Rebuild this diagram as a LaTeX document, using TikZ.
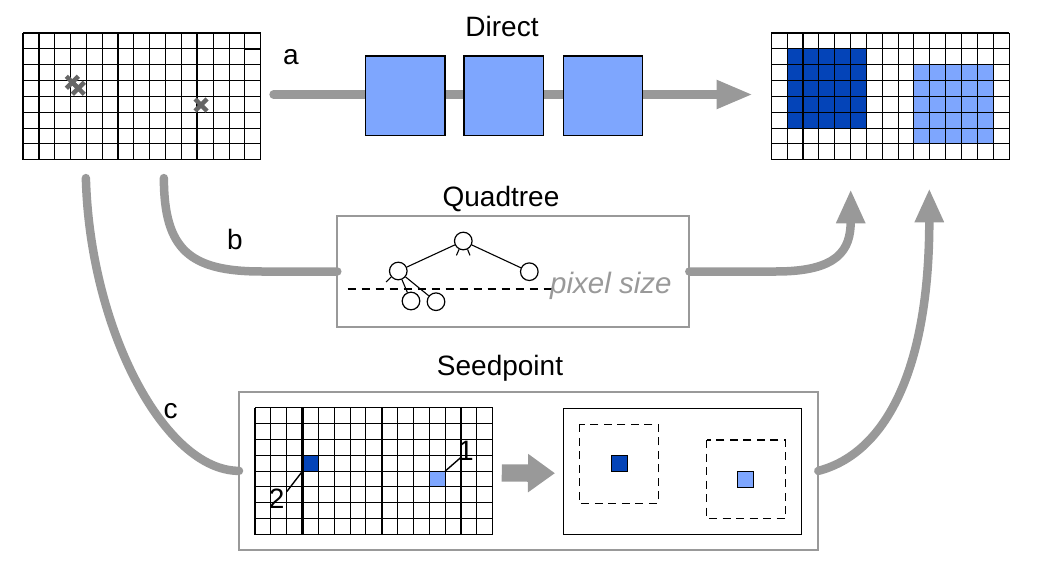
\documentclass[tikz,border=0pt]{standalone}
\usepackage{fontspec}
\setmainfont{Liberation Sans}
\usetikzlibrary{arrows.meta}
\definecolor{flowgray}{RGB}{153,153,153}
\definecolor{crossgray}{RGB}{102,102,102}
\definecolor{darkblue}{RGB}{4,68,184}
\definecolor{lightblue}{RGB}{126,166,254}
\begin{document}
\begin{tikzpicture}[x=1pt,y=-1pt,
  title/.style={font=\fontsize{28}{32}\selectfont, anchor=base, inner sep=0},
  lbl/.style={font=\fontsize{28}{32}\selectfont, anchor=base, inner sep=0},
  area/.style={draw=none, inner sep=0, outer sep=0, minimum width=237.75pt, minimum height=126.8pt},
  gl/.style={line width=1.05pt, black},
  glthick/.style={line width=2.2pt, black},
  stagebox/.style={draw=black, line width=1.4pt, fill=lightblue, minimum width=79.5pt, minimum height=79.3pt, inner sep=0, outer sep=0},
  panel/.style={draw=flowgray, line width=2pt, inner sep=0, outer sep=0},
  innerpanel/.style={draw=black, line width=1.4pt, inner sep=0, outer sep=0},
  flowplain/.style={draw=flowgray, line width=8.5pt, line cap=round},
  flow/.style={flowplain, -{Triangle[length=34pt,width=27pt]}},
  treenode/.style={circle, draw=black, line width=1.2pt, minimum size=17.6pt, inner sep=0, fill=white},
  treeedge/.style={line width=1.1pt, black},
  xmark/.style={draw=crossgray, line width=4.5pt},
  limitline/.style={black, line width=1.8pt, dash pattern=on 8pt off 6pt},
  window/.style={black, line width=1.5pt, dash pattern=on 8pt off 5.5pt},
  seedcell/.style={draw=black, line width=1.3pt},
]
\useasboundingbox (0,0) rectangle (1041,575);

% ---------- grid areas (named) ----------
\node[area] (gA) at (141.875,96.4) {};
\node[area] (gD) at (890.175,96.4) {};
\node[area] (gS) at (373.875,471.1) {};

% ---------- panels ----------
\node[panel, minimum width=352pt, minimum height=111.6pt] (qt) at (513.3,271.5) {};
\node[panel, minimum width=579.3pt, minimum height=158.3pt] (sp) at (528.65,470.85) {};
\node[innerpanel, minimum width=238.4pt, minimum height=126pt] (sr) at (682.5,471.3) {};

% ---------- titles and labels ----------
\node[title] (tDirect) at (502,36.7) {Direct};
\node[title] (tQuad) at (501,206.7) {Quadtree};
\node[title] (tSeed) at (500,375) {Seedpoint};
\node[lbl] (la) at (291,65) {a};
\node[lbl] (lb) at (235,249.3) {b};
\node[lbl] (lc) at (170.7,418.3) {c};

% ---------- flows ----------
\draw[flowplain, -{Triangle[length=36pt,width=26.7pt]}] ([xshift=12.8pt,yshift=1.9pt]gA.east) -- ([xshift=-18.6pt,yshift=1.9pt]gD.west);
\node[stagebox] (s1) at (405.3,95.7) {};
\node[stagebox] (s2) at (503.8,95.7) {};
\node[stagebox] (s3) at (603,95.7) {};

\draw[flowplain] ([xshift=22pt,yshift=-18.3pt]gA.south) .. controls (164,250) and (190,271.5) .. (262,271.5) -- (qt.west);
\draw[flowplain] ([xshift=-56pt,yshift=-18.3pt]gA.south) .. controls (90,330) and (165,470.85) .. (sp.west);

\coordinate (tipB) at (850.7,189.3);
\coordinate (tipC) at (929.3,188.3);
\draw[flow] (qt.east) -- (776,271.5) .. controls (838,271.5) and (850.7,250) .. (tipB);
\draw[flow] (sp.east) .. controls (880,455) and (929.3,380) .. (tipC);

\draw[draw=flowgray, line width=17.3pt, -{Triangle[length=27pt,width=36.7pt]}] ([xshift=9pt,yshift=-1.9pt]gS.east) -- ([xshift=-8.3pt,yshift=-1.9pt]sr.west);

% ---------- top-left grid ----------
\foreach \i in {0,...,15} \draw[gl] (23+\i*15.85,33) -- (23+\i*15.85,159.8);
\foreach \j in {0,...,8} \draw[gl] (23,33+\j*15.85) -- (260.75,33+\j*15.85);
\foreach \i in {1,6,11} \draw[glthick] (23+\i*15.85,33) -- (23+\i*15.85,159.8);
\draw[glthick] (23+14*15.85,48.85) -- (260.75,48.85);
\draw[xmark] (66.3,76.3) -- (78.3,88.3) (66.3,88.3) -- (78.3,76.3);
\draw[xmark] (72.3,82.3) -- (84.3,94.3) (72.3,94.3) -- (84.3,82.3);
\draw[xmark] (195,99) -- (207,111) (195,111) -- (207,99);

% ---------- top-right grid ----------
\fill[darkblue] (771.3+15.85,33+15.85) rectangle (771.3+6*15.85,33+6*15.85);
\fill[lightblue] (771.3+9*15.85,33+2*15.85) rectangle (771.3+14*15.85,33+7*15.85);
\foreach \i in {0,...,15} \draw[gl] (771.3+\i*15.85,33) -- (771.3+\i*15.85,159.8);
\foreach \j in {0,...,8} \draw[gl] (771.3,33+\j*15.85) -- (1009.05,33+\j*15.85);

% ---------- quadtree ----------
\draw[limitline] (347.7,288.7) -- (551.7,288.7);
\node[treenode] (root) at (463.3,241) {};
\node[treenode] (lch) at (398.3,271) {};
\node[treenode] (rch) at (529.3,271.7) {};
\node[treenode] (g1) at (411,301) {};
\node[treenode] (g2) at (436,301.7) {};
\draw[treeedge] (root) -- (lch);
\draw[treeedge] (root) -- (rch);
\draw[treeedge] (lch) -- (g1);
\draw[treeedge] (lch) -- (g2);
\draw[treeedge] (root.-117) -- ++(-2.6,6);
\draw[treeedge] (root.-63) -- ++(2.4,6);
\draw[treeedge] (lch.-140) -- ++(-5,5);
\node[lbl, anchor=base west, text=flowgray, font=\fontsize{29.5}{33}\selectfont\itshape] (px) at (550,293.3) {pixel size};

% ---------- seedpoint grid ----------
\fill[darkblue] (255+3*15.85,407.7+3*15.85) rectangle (255+4*15.85,407.7+4*15.85);
\fill[lightblue] (255+11*15.85,407.7+4*15.85) rectangle (255+12*15.85,407.7+5*15.85);
\foreach \i in {0,...,15} \draw[gl] (255+\i*15.85,407.7) -- (255+\i*15.85,534.5);
\foreach \j in {0,...,8} \draw[gl] (255,407.7+\j*15.85) -- (492.75,407.7+\j*15.85);
\foreach \i in {3,8,13} \draw[glthick] (255+\i*15.85,407.7) -- (255+\i*15.85,534.5);
\coordinate (c2) at (255+3*15.85,407.7+4*15.85);
\coordinate (c1) at (255+12*15.85,407.7+4*15.85);
\node[lbl] (n2) at (276.7,508) {2};
\node[lbl] (n1) at (466,460) {1};
\draw[treeedge, line width=1.4pt] (c2) -- (286.7,491.7);
\draw[treeedge, line width=1.4pt] (c1) -- (461.7,456.7);

% ---------- seedpoint result ----------
\draw[window] (579.3,424.3) rectangle (658.3,503.3);
\draw[window] (706.7,440) rectangle (785.3,518.7);
\filldraw[seedcell, fill=darkblue] (611.3,455.3) rectangle (627.3,471.3);
\filldraw[seedcell, fill=lightblue] (737.3,471.3) rectangle (753.3,487.3);
\end{tikzpicture}
\end{document}
